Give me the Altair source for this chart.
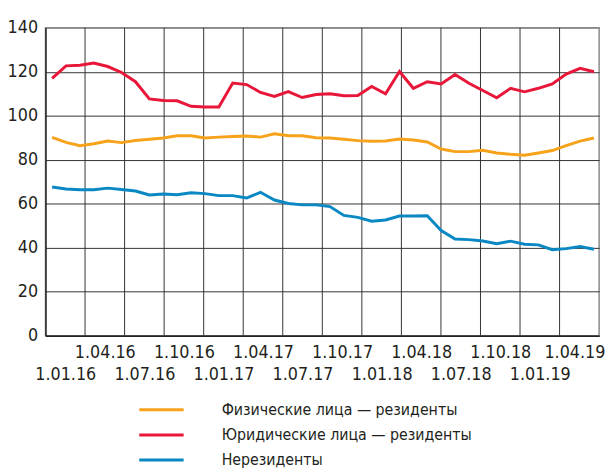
import altair as alt
import pandas as pd

series_names = ["Физические лица — резиденты", "Юридические лица — резиденты", "Нерезиденты"]
series_colors = ["#F7A21B", "#E8173A", "#0988C3"]

individuals = [90.2, 87.9, 86.4, 87.3, 88.5, 87.8, 88.8, 89.3, 89.9, 90.9,
               90.9, 89.9, 90.3, 90.6, 90.8, 90.3, 91.8, 90.9, 90.9, 90.0,
               89.9, 89.3, 88.7, 88.4, 88.5, 89.4, 89.0, 88.1, 84.9, 83.7,
               83.7, 84.3, 83.1, 82.5, 82.1, 83.1, 84.2, 86.4, 88.5, 89.9]
legal = [117.0, 122.7, 123.0, 124.0, 122.4, 119.7, 115.5, 107.7, 107.0, 106.8,
         104.3, 104.0, 104.0, 114.9, 114.2, 110.6, 108.8, 111.0, 108.3, 109.7,
         110.0, 109.1, 109.2, 113.3, 110.0, 120.1, 112.5, 115.5, 114.5, 118.8,
         114.8, 111.5, 108.2, 112.5, 110.9, 112.5, 114.5, 119.0, 121.6, 120.0]
nonresidents = [67.6, 66.7, 66.4, 66.4, 67.1, 66.5, 65.8, 64.0, 64.4, 64.1,
                65.0, 64.6, 63.7, 63.7, 62.6, 65.2, 61.7, 60.1, 59.5, 59.5,
                58.7, 54.7, 53.8, 52.1, 52.6, 54.4, 54.4, 54.5, 47.8, 44.0,
                43.7, 43.1, 41.8, 43.0, 41.6, 41.3, 39.1, 39.6, 40.6, 39.3]

quarter_labels = ["1.01.16", "1.04.16", "1.07.16", "1.10.16", "1.01.17", "1.04.17", "1.07.17",
                  "1.10.17", "1.01.18", "1.04.18", "1.07.18", "1.10.18", "1.01.19", "1.04.19"]
y_ticks = [0, 20, 40, 60, 80, 100, 120, 140]

FONT = "DejaVu Sans Condensed, sans-serif"
TXT = "#231f20"
AXIS_FS = 18
LEG_FS = 16

rows = []
for name, vals in zip(series_names, [individuals, legal, nonresidents]):
    for i, v in enumerate(vals):
        rows.append({"month": i, "series": name, "value": v})
df = pd.DataFrame(rows)

nq = len(quarter_labels)
grid_df = pd.DataFrame({"q": list(range(1, nq))})
last_label_pos = nq - 0.5

labels_js = "[" + ",".join("'" + s + "'" for s in quarter_labels) + "]"
label_expr = (f"floor(datum.value) % 2 == 0 ? ['', {labels_js}[floor(datum.value)]] "
              f": {labels_js}[floor(datum.value)]")

rules = alt.Chart(grid_df).mark_rule(color="#333333", strokeWidth=1).encode(
    x=alt.X("q:Q",
            scale=alt.Scale(domain=[0, nq], nice=False, zero=False),
            axis=alt.Axis(orient="bottom", values=[k + 0.5 for k in range(nq)],
                          labelExpr=label_expr, grid=False, ticks=False, title=None,
                          labelFont=FONT, labelFontSize=AXIS_FS, labelColor=TXT,
                          labelPadding=8.5, labelLineHeight=22, labelBaseline="top",
                          labelOverlap=False, labelFlush=False, labelBound=False,
                          labelOffset={"condition": {"test": f"datum.value === {last_label_pos}",
                                                     "value": -5},
                                       "value": 0},
                          domain=True, domainColor="#222222", domainWidth=1.5))
)

lines = alt.Chart(df).mark_line(strokeWidth=3).encode(
    x=alt.X("month:Q",
            scale=alt.Scale(domain=[-0.476, 39.37], nice=False, zero=False),
            axis=None),
    y=alt.Y("value:Q",
            scale=alt.Scale(domain=[0, 140], nice=False),
            axis=alt.Axis(values=y_ticks, title=None, ticks=False, labelPadding=8,
                          labelFont=FONT, labelFontSize=AXIS_FS, labelColor=TXT,
                          grid=True, gridWidth=1,
                          gridColor={"condition": {"test": "datum.value === 140", "value": "#8a8a8a"},
                                     "value": "#333333"},
                          domainColor="#222222", domainWidth=1.5)),
    color=alt.Color("series:N",
                    scale=alt.Scale(domain=series_names, range=series_colors),
                    legend=alt.Legend(orient="none", legendX=108.5, legendY=378,
                                      title=None, symbolType="M-3,0H3", symbolSize=225,
                                      symbolStrokeWidth=3, labelFont=FONT, labelFontSize=LEG_FS,
                                      labelColor=TXT, labelOffset=52, rowPadding=8.5,
                                      padding=0, labelLimit=400)),
    order=alt.Order("month:Q"),
)

chart = alt.layer(rules, lines).resolve_scale(x="independent").properties(
    width=561, height=312,
    autosize=alt.AutoSizeParams(type="none"),
    padding={"left": 38, "top": 17, "right": 9, "bottom": 134},
    background="white",
).configure_view(stroke="#8a8a8a", strokeWidth=1.5)

chart.save("out.html", embed_options={"renderer": "svg", "actions": False})
